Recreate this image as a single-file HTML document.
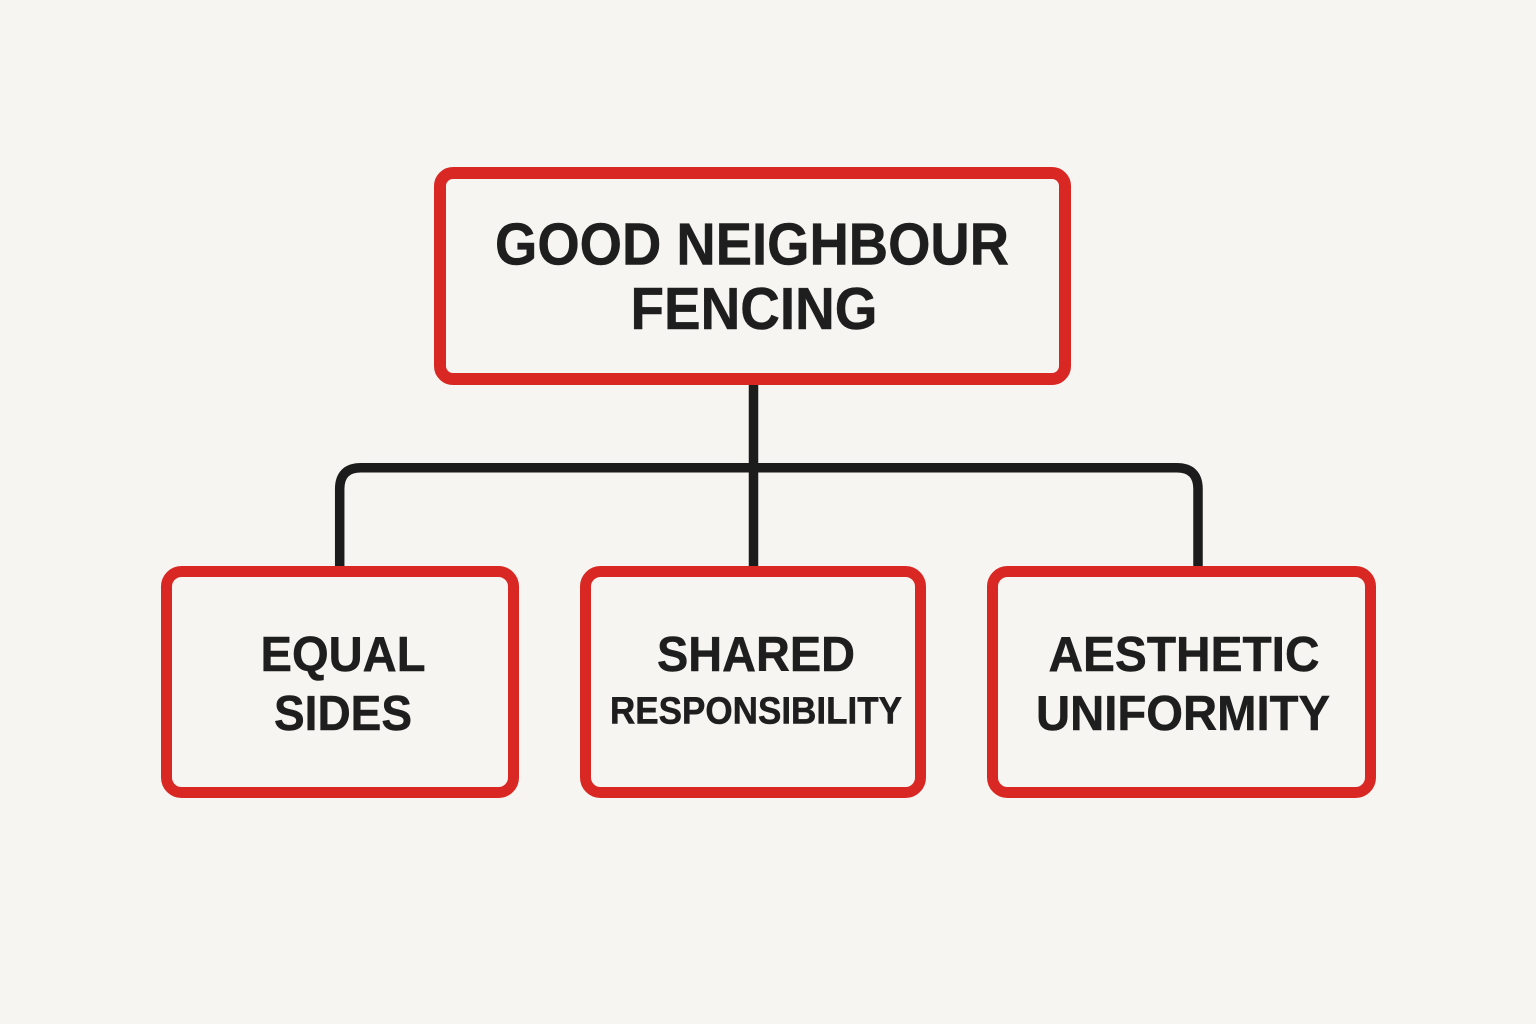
<!DOCTYPE html>
<html>
<head>
<meta charset="utf-8">
<style>
html,body{margin:0;padding:0;background:#f7f5f1;}
svg{display:block;}
text{font-family:"Liberation Sans",sans-serif;font-weight:700;fill:#1e1e1e;stroke:#1e1e1e;stroke-width:0.500;text-anchor:middle;}
</style>
</head>
<body>
<svg width="1536" height="1024" viewBox="0 0 1536 1024" xmlns="http://www.w3.org/2000/svg">
<rect width="1536" height="1024" fill="#f7f5f1"/>
<g fill="none" stroke="#1c1c1c" stroke-width="9.500">
<path d="M753.500 380V570"/>
<path d="M339.700 570V489Q339.700 467.800 361 467.800H1176.700Q1198 467.800 1198 489V570"/>
</g>
<g fill="#f7f5f1" stroke="#d92723">
<rect x="440" y="173" width="625" height="206" rx="13" stroke-width="12"/>
<rect x="166.500" y="571.500" width="347" height="221" rx="15" stroke-width="11"/>
<rect x="585.500" y="571.500" width="335" height="221" rx="15" stroke-width="11"/>
<rect x="992.500" y="571.500" width="378" height="221" rx="15" stroke-width="11"/>
</g>
<text x="752" y="264.500" font-size="59" textLength="514" lengthAdjust="spacingAndGlyphs">GOOD NEIGHBOUR</text>
<text x="754" y="329" font-size="59" textLength="247" lengthAdjust="spacingAndGlyphs">FENCING</text>
<text x="343" y="671" font-size="49" textLength="165" lengthAdjust="spacingAndGlyphs">EQUAL</text>
<text x="343" y="730" font-size="49" textLength="138" lengthAdjust="spacingAndGlyphs">SIDES</text>
<text x="756" y="671" font-size="49" textLength="198" lengthAdjust="spacingAndGlyphs">SHARED</text>
<text x="756" y="723.500" font-size="38" textLength="292" lengthAdjust="spacingAndGlyphs">RESPONSIBILITY</text>
<text x="1184" y="671" font-size="49" textLength="271" lengthAdjust="spacingAndGlyphs">AESTHETIC</text>
<text x="1183" y="730" font-size="49" textLength="294" lengthAdjust="spacingAndGlyphs">UNIFORMITY</text>
</svg>
</body>
</html>
